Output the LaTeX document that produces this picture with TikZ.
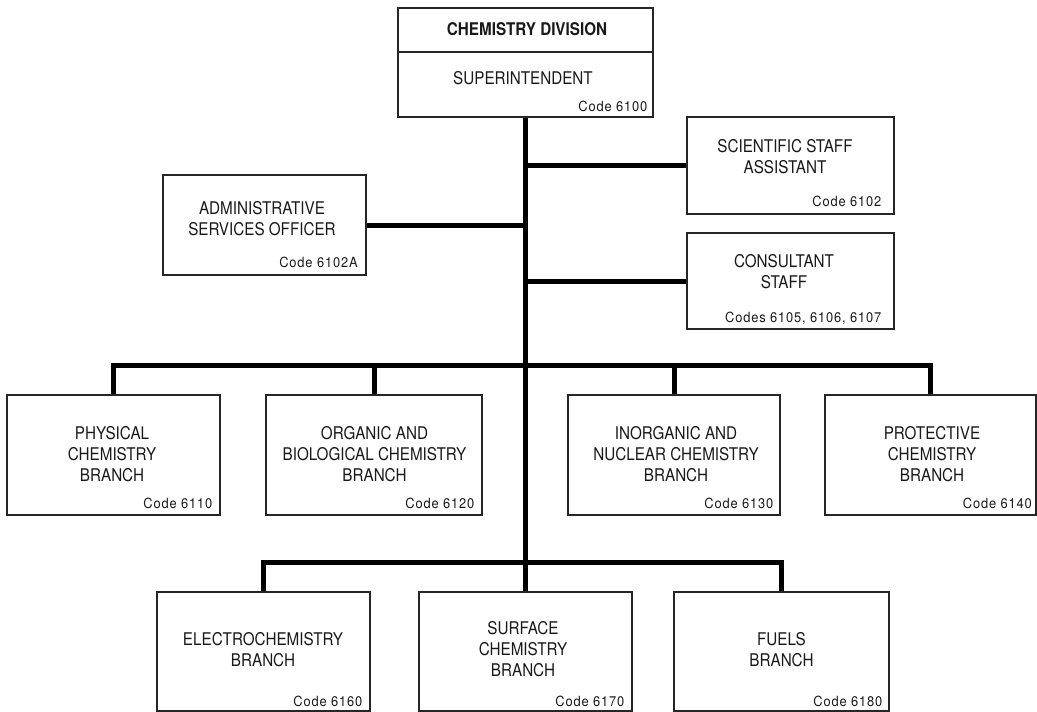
\documentclass[tikz,border=0pt]{standalone}
\usepackage{fontspec}
\setmainfont{TeX Gyre Heros}[FakeStretch=0.87]
\newfontfamily\codefont{TeX Gyre Heros}[FakeStretch=0.92,LetterSpace=6]
\usetikzlibrary{calc}
\tikzset{
  box/.style={draw=black!85, line width=1.1pt, rectangle, inner sep=0pt},
  lbl/.style={align=center, inner sep=0pt, font=\fontsize{17.5}{21}\selectfont, text=black!90},
  codelbl/.style={anchor=base east, inner sep=0pt, font=\codefont\fontsize{14}{16}\selectfont, text=black!90},
  conn/.style={line width=5pt, black, line join=miter},
}
\begin{document}
\begin{tikzpicture}[x=1pt,y=-1pt]
\useasboundingbox (0,0) rectangle (1037,712);
% boxes
\node[box, minimum width=255, minimum height=44] (div) at (525.5,30) {};
\node[box, minimum width=255, minimum height=65] (supt) at (525.5,84.5) {};
\node[box, minimum width=207, minimum height=97] (sci) at (790.5,165.5) {};
\node[box, minimum width=203, minimum height=100] (admin) at (264.5,225) {};
\node[box, minimum width=207, minimum height=96] (cons) at (790.5,281) {};
\node[box, minimum width=213, minimum height=120] (phys) at (113.5,455) {};
\node[box, minimum width=216, minimum height=120] (org) at (374,455) {};
\node[box, minimum width=212, minimum height=120] (inorg) at (674,455) {};
\node[box, minimum width=211, minimum height=120] (prot) at (930.5,455) {};
\node[box, minimum width=213, minimum height=119] (elec) at (263.5,651.5) {};
\node[box, minimum width=213, minimum height=119] (surf) at (525.5,651.5) {};
\node[box, minimum width=215, minimum height=119] (fuel) at (781.5,651.5) {};
% connector junctions
\coordinate (bus1) at (525.5,365);
\coordinate (bus2) at (525.5,562);
% connectors
\draw[conn] (supt.south) -- (surf.north);
\draw[conn] (supt.south |- sci.west) -- (sci.west);
\draw[conn] (admin.east) -- (admin.east -| supt.south);
\draw[conn] (supt.south |- cons.west) -- (cons.west);
\draw[conn] (phys.north) |- (bus1) -| (prot.north);
\draw[conn] (org.north) -- (org.north |- bus1);
\draw[conn] (inorg.north) -- (inorg.north |- bus1);
\draw[conn] (elec.north) |- (bus2) -| (fuel.north);
% labels
\node[lbl, font=\fontsize{17.5}{21}\selectfont\bfseries] (divT) at (527,29.5) {CHEMISTRY DIVISION};
\node[lbl] (suptT) at (523,78) {SUPERINTENDENT};
\node[codelbl] (suptC) at ($(supt.south east)+(-6,-5.6)$) {Code 6100};
\node[lbl] (sciT) at (785,157) {SCIENTIFIC STAFF\\ASSISTANT};
\node[codelbl] (sciC) at ($(sci.south east)+(-13,-7.6)$) {Code 6102};
\node[lbl] (adminT) at (262,219) {ADMINISTRATIVE\\SERVICES OFFICER};
\node[codelbl] (adminC) at ($(admin.south east)+(-8.7,-8.3)$) {Code 6102A};
\node[lbl] (consT) at (784,272) {CONSULTANT\\STAFF};
\node[codelbl] (consC) at ($(cons.south east)+(-13,-7.5)$) {Codes 6105, 6106, 6107};
\node[lbl] (physT) at (112,454) {PHYSICAL\\CHEMISTRY\\BRANCH};
\node[codelbl] (physC) at ($(phys.south east)+(-8,-7)$) {Code 6110};
\node[lbl] (orgT) at (374.5,454) {ORGANIC AND\\BIOLOGICAL CHEMISTRY\\BRANCH};
\node[codelbl] (orgC) at ($(org.south east)+(-8,-7)$) {Code 6120};
\node[lbl] (inorgT) at (676,454) {INORGANIC AND\\NUCLEAR CHEMISTRY\\BRANCH};
\node[codelbl] (inorgC) at ($(inorg.south east)+(-7,-7)$) {Code 6130};
\node[lbl] (protT) at (932,454) {PROTECTIVE\\CHEMISTRY\\BRANCH};
\node[codelbl] (protC) at ($(prot.south east)+(-4.5,-7)$) {Code 6140};
\node[lbl] (elecT) at (263,649.5) {ELECTROCHEMISTRY\\BRANCH};
\node[codelbl] (elecC) at ($(elec.south east)+(-8,-5.5)$) {Code 6160};
\node[lbl] (surfT) at (523,649) {SURFACE\\CHEMISTRY\\BRANCH};
\node[codelbl] (surfC) at ($(surf.south east)+(-8,-5.5)$) {Code 6170};
\node[lbl] (fuelT) at (781.5,649.5) {FUELS\\BRANCH};
\node[codelbl] (fuelC) at ($(fuel.south east)+(-7,-5.5)$) {Code 6180};
\end{tikzpicture}
\end{document}
